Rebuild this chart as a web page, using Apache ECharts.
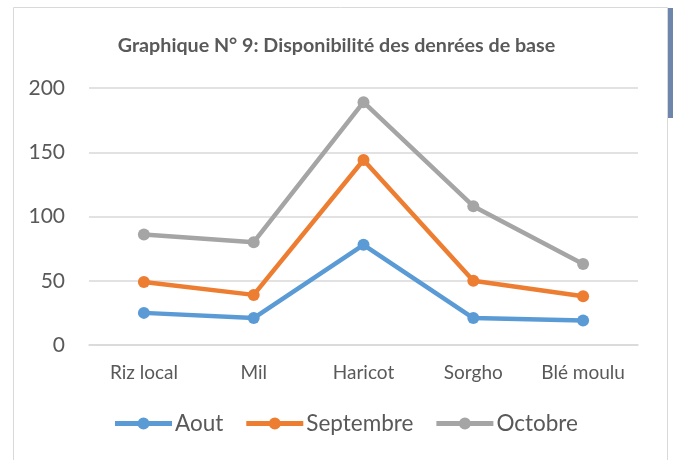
<!DOCTYPE html>
<html>
<head>
<meta charset="utf-8">
<script src="https://cdn.jsdelivr.net/npm/echarts@6/dist/echarts.min.js"></script>
<style>
html,body{margin:0;padding:0;background:#fff;}
#c{width:673px;height:460px;}
</style>
</head>
<body>
<div id="c"></div>
<script>
const titleText = 'Graphique N° 9: Disponibilité des denrées de base';
const categories = ['Riz local', 'Mil', 'Haricot', 'Sorgho', 'Blé moulu'];
const seriesNames = ['Aout', 'Septembre', 'Octobre'];
const aout = [25, 21, 78, 21, 19];
const septembre = [49, 39, 144, 50, 38];
const octobre = [86, 80, 189, 108, 63];
const yTicks = [0, 50, 100, 150, 200];

const colors = ['#5B9BD5', '#ED7D31', '#A5A5A5'];
const FONT = 'Lato';
const legendIcon = 'path://M0,3.5 H57 V8.5 H0 Z M22.5,6 A6,6 0 1,1 34.5,6 A6,6 0 1,1 22.5,6 Z';

const chart = echarts.init(document.getElementById('c'), null, {renderer: 'canvas'});
const mk = (name, data, color) => ({
  name, type: 'line', data,
  symbol: 'circle', symbolSize: 12,
  lineStyle: {width: 4.5, color},
  itemStyle: {color},
  emphasis: {disabled: true},
  animation: false
});
chart.setOption({
  animation: false,
  graphic: [
    {type: 'rect', shape: {x: 13.5, y: 7.5, width: 654, height: 460}, style: {fill: 'none', stroke: '#D9D9D9', lineWidth: 1}, z: -1},
    {type: 'rect', shape: {x: 668, y: 8, width: 6, height: 110}, style: {fill: '#6E86AB'}, z: -1}
  ],
  title: {
    text: titleText, left: 'center', top: 31,
    textStyle: {fontFamily: FONT, fontSize: 19.7, fontWeight: 'bold', color: '#595959'}
  },
  legend: {
    bottom: 20, left: 110, itemGap: 23, itemWidth: 57, itemHeight: 12,
    icon: legendIcon,
    textStyle: {fontFamily: FONT, fontSize: 22.5, color: '#595959', padding: [0, 0, 0, -2]},
    data: seriesNames
  },
  grid: {left: 89, right: 35, top: 88, bottom: 115},
  xAxis: {
    type: 'category', data: categories, boundaryGap: true,
    axisLine: {lineStyle: {color: '#D9D9D9', width: 1.5}},
    axisTick: {show: false},
    axisLabel: {fontFamily: FONT, fontSize: 19, color: '#595959', margin: 18}
  },
  yAxis: {
    type: 'value', min: yTicks[0], max: yTicks[yTicks.length - 1], interval: 50,
    axisLine: {show: false}, axisTick: {show: false},
    splitLine: {lineStyle: {color: '#D9D9D9', width: 1.5}},
    axisLabel: {fontFamily: FONT, fontSize: 21, color: '#595959', margin: 24}
  },
  series: [
    mk(seriesNames[0], aout, colors[0]),
    mk(seriesNames[1], septembre, colors[1]),
    mk(seriesNames[2], octobre, colors[2])
  ]
});
</script>
</body>
</html>
